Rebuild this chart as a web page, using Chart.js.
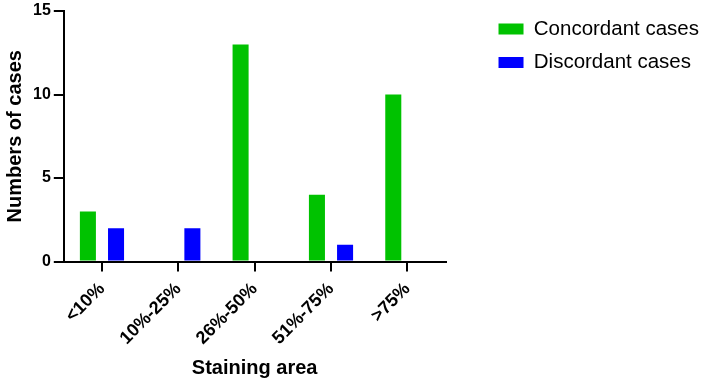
<!DOCTYPE html>
<html>
<head>
<meta charset="utf-8">
<script src="https://cdn.jsdelivr.net/npm/chart.js@4/dist/chart.umd.min.js"></script>
<style>
  html, body { margin: 0; padding: 0; background: #fff; }
  #wrap { width: 709px; height: 382px; }
</style>
</head>
<body>
<div id="wrap"><canvas id="chart1"></canvas></div>
<script>
// categories and values
const categories = ['<10%', '10%-25%', '26%-50%', '51%-75%', '>75%'];
const concordant = [3, 0, 13, 4, 10];
const discordant = [2, 2, 0, 1, 0];
const yTicks = [0, 5, 10, 15];

const FONT = 'Arial, "Liberation Sans", sans-serif';

var ctx1 = document.getElementById('chart1').getContext('2d');

var chart1 = new Chart(ctx1, {
    type: 'bar',
    data: {
        labels: categories,
        datasets: [{
            label: 'Concordant cases',
            data: concordant,
            backgroundColor: '#00c200',
            borderWidth: 0,
            barPercentage: 0.57,
            categoryPercentage: 0.737
        }, {
            label: 'Discordant cases',
            data: discordant,
            backgroundColor: '#0000ff',
            borderWidth: 0,
            barPercentage: 0.57,
            categoryPercentage: 0.737
        }]
    },
    options: {
        responsive: true,
        maintainAspectRatio: false,
        animation: false,
        layout: { padding: { top: 1, right: 0, left: 0, bottom: 0 } },
        plugins: {
            tooltip: { enabled: false },
            legend: {
                position: 'right',
                align: 'start',
                maxWidth: 250,
                title: {
                    display: true,
                    text: ' ',
                    padding: 0,
                    font: { family: FONT, size: 4 }
                },
                labels: {
                    boxWidth: 25,
                    boxHeight: 11,
                    padding: 13,
                    color: '#000',
                    font: { family: FONT, size: 20.5 }
                }
            }
        },
        scales: {
            x: {
                offset: true,
                grid: {
                    offset: false,
                    drawOnChartArea: false,
                    drawTicks: true,
                    tickLength: 10,
                    color: '#000',
                    lineWidth: 2
                },
                border: { display: true, color: '#000', width: 2 },
                ticks: {
                    color: '#000',
                    padding: 7,
                    maxRotation: 45,
                    minRotation: 45,
                    font: { family: FONT, size: 18, weight: 'bold' }
                },
                title: {
                    display: true,
                    text: 'Staining area',
                    color: '#000',
                    padding: { top: 0, bottom: 2 },
                    font: { family: FONT, size: 20, weight: 'bold' }
                }
            },
            y: {
                min: 0,
                max: 15,
                afterBuildTicks: function(scale) {
                    scale.ticks = yTicks.map(v => ({ value: v }));
                },
                grid: {
                    drawOnChartArea: false,
                    drawTicks: true,
                    tickLength: 10,
                    color: '#000',
                    lineWidth: 2
                },
                border: { display: true, color: '#000', width: 2 },
                ticks: {
                    color: '#000',
                    padding: 3,
                    font: { family: FONT, size: 16, weight: 'bold', lineHeight: 1 }
                },
                title: {
                    display: true,
                    text: 'Numbers of cases',
                    color: '#000',
                    padding: 3,
                    font: { family: FONT, size: 20, weight: 'bold' }
                }
            },
            // empty axis, only keeps a gap between the plot and the legend
            gap: {
                position: 'right',
                display: true,
                grid: { display: false },
                border: { display: false },
                ticks: { display: false },
                afterFit: function(scale) { scale.width = 40; }
            }
        }
    }
});
</script>
</body>
</html>
